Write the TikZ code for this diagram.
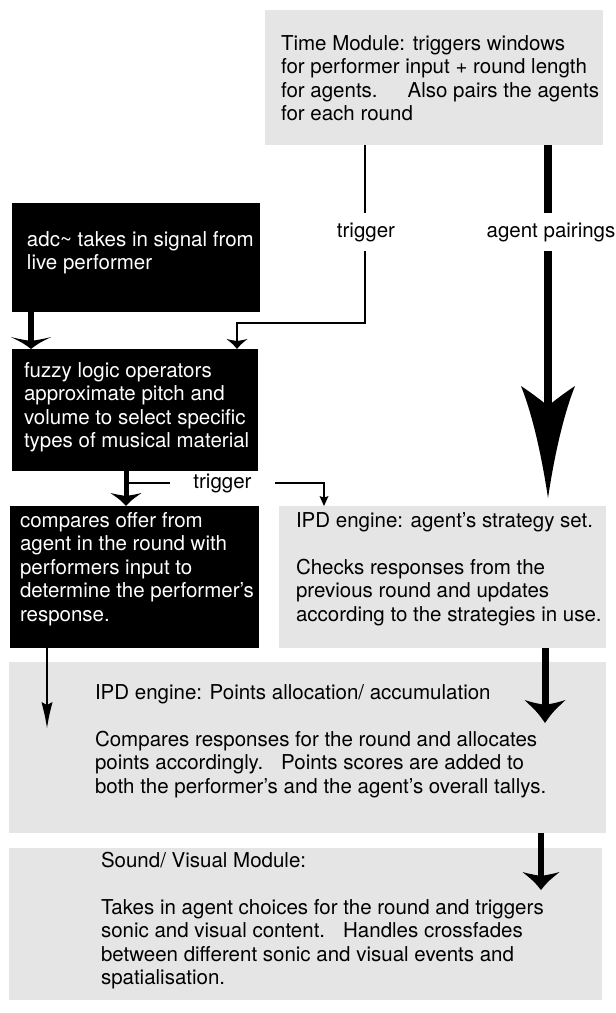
\documentclass[tikz,border=0pt]{standalone}
\usepackage{fontspec}
\setmainfont{TeX Gyre Heros}
\usetikzlibrary{calc}
\newcommand\boxtext[1]{\parbox[t]{540pt}{\fontsize{20.5}{23.5}\selectfont\raggedright #1}}
\tikzset{
  pics/ahd/.style n args={3}{code={
    \fill (0,0) .. controls (-0.35*#1,-0.45*#2) .. (-#1,-#2)
      .. controls (-0.6*#1,-#2+0.5*#3) .. (0,-#2+#3)
      .. controls (0.6*#1,-#2+0.5*#3) .. (#1,-#2)
      .. controls (0.35*#1,-0.45*#2) .. (0,0) -- cycle;
  }},
  pics/bighead/.style={code={
    \fill (0,0) .. controls (-6,-40) and (-15,-82) .. (-27,-112)
      .. controls (-15,-104) and (-6,-97) .. (0,-92)
      .. controls (6,-97) and (15,-104) .. (27,-112)
      .. controls (15,-82) and (6,-40) .. (0,0) -- cycle;
  }},
  box/.style={inner sep=0pt,outer sep=0pt,anchor=north west,draw=none},
  graybox/.style={box,fill=gray!20},
  blackbox/.style={box,fill=black},
  txt/.style={anchor=base west,inner sep=0pt,outer sep=0pt},
  wtxt/.style={txt,text=white},
  lbl/.style={inner sep=0pt,outer sep=0pt,font=\fontsize{20.5}{23.5}\selectfont},
}
\begin{document}
\begin{tikzpicture}[x=1pt,y=-1pt,line join=miter]
\path[use as bounding box] (0,0) rectangle (616,1013);

% boxes
\node[graybox,minimum width=338pt,minimum height=135pt] (time) at (265,10) {};
\node[blackbox,minimum width=248pt,minimum height=109pt] (adc) at (12,203) {};
\node[blackbox,minimum width=246pt,minimum height=122pt] (fuzzy) at (12,349) {};
\node[blackbox,minimum width=249pt,minimum height=142pt] (compare) at (10,506) {};
\node[graybox,minimum width=327pt,minimum height=142pt] (ipd) at (279,506) {};
\node[graybox,minimum width=597pt,minimum height=171pt] (points) at (9,662) {};
\node[graybox,minimum width=593pt,minimum height=152pt] (sound) at (9,848) {};

% texts
\node[txt] (timet) at (281,50) {\boxtext{Time Module: triggers windows\\for performer input + round length\\for agents.\hspace{30pt}Also pairs the agents\\for each round}};
\node[wtxt] (adct) at (27,246) {\boxtext{adc\textasciitilde{} takes in signal from\\live performer}};
\node[wtxt] (fuzzyt) at (24,377) {\boxtext{fuzzy logic operators\\approximate pitch and\\volume to select specific\\types of musical material}};
\node[wtxt] (comparet) at (20,527) {\boxtext{compares offer from\\agent in the round with\\performers input to\\determine the performer’s\\response.}};
\node[txt] (ipdt) at (296,527) {\boxtext{IPD engine: agent’s strategy set.\\[23.5pt]Checks responses from the\\previous round and updates\\according to the strategies in use.}};
\node[txt] (pointst) at (95,699) {\boxtext{IPD engine: Points allocation/ accumulation\\[23.5pt]Compares responses for the round and allocates\\points accordingly.\hspace{18pt}Points scores are added to\\both the performer’s and the agent’s overall tallys.}};
\node[txt] (soundt) at (101,867) {\boxtext{Sound/ Visual Module:\\[23.5pt]Takes in agent choices for the round and triggers\\sonic and visual content.\hspace{18pt}Handles crossfades\\between different sonic and visual events and\\spatialisation.}};

% labels
\node[lbl,minimum height=38pt] (trig1) at (366,232) {trigger};
\node[lbl,minimum height=38pt] (pair) at (551,232) {agent pairings};
\node[lbl,minimum width=105pt,minimum height=20pt] (trig2) at (222.5,483) {\raisebox{-3pt}{trigger}};

% helper coordinates
\coordinate (xa) at (31,0);
\coordinate (xt) at (365,0);
\coordinate (xt2) at (237,0);
\coordinate (ybend) at (0,323);
\coordinate (xp) at (548,0);
\coordinate (ptip) at (548,498);
\coordinate (xf) at (126,0);
\coordinate (yb) at (0,483);
\coordinate (xi) at (324,0);
\coordinate (xc) at (47,0);
\coordinate (ctip) at (47,728);
\coordinate (xq) at (545,0);
\coordinate (qtip) at (545,723);
\coordinate (xs) at (541,0);
\coordinate (stip) at (541,890);

% adc -> fuzzy
\draw[line width=6pt] (adc.south -| xa) -- ($(fuzzy.north -| xa)+(0,-6)$);
\pic at (fuzzy.north -| xa) {ahd={20}{12}{4}};

% time trigger -> fuzzy
\draw[line width=2pt] (time.south -| xt) -- (trig1.north -| xt);
\draw[line width=2pt] (trig1.south -| xt) |- (ybend -| xt2) -- ($(fuzzy.north -| xt2)+(0,-6)$);
\pic at (fuzzy.north -| xt2) {ahd={10.5}{10}{2}};

% agent pairings -> ipd
\draw[line width=8.5pt] (time.south -| xp) -- (pair.north -| xp);
\draw[line width=8.5pt] (pair.south -| xp) -- ($(ptip)+(0,-86)$);
\pic at (ptip) {bighead};

% fuzzy -> compare, trigger -> ipd
\draw[line width=5pt] (fuzzy.south -| xf) -- ($(compare.north -| xf)+(0,-7)$);
\pic at (compare.north -| xf) {ahd={15.5}{13}{3}};
\draw[line width=2pt] (yb -| xf) -- (trig2.west);
\draw[line width=1.6pt] (trig2.east) -- (yb -| xi) -- ($(ipd.north -| xi)+(0,-5)$);
\pic at (ipd.north -| xi) {ahd={4.5}{10}{1.5}};

% compare -> points
\draw[line width=2pt] (compare.south -| xc) -- ($(ctip)+(0,-12)$);
\pic at (ctip) {ahd={5.5}{26}{3}};

% ipd -> points
\draw[line width=7pt] (ipd.south -| xq) -- ($(qtip)+(0,-12)$);
\pic at (qtip) {ahd={20.5}{23}{5}};

% points -> sound
\draw[line width=5.5pt] (points.south -| xs) -- ($(stip)+(0,-9)$);
\pic at (stip) {ahd={18.5}{18}{4}};
\end{tikzpicture}
\end{document}
